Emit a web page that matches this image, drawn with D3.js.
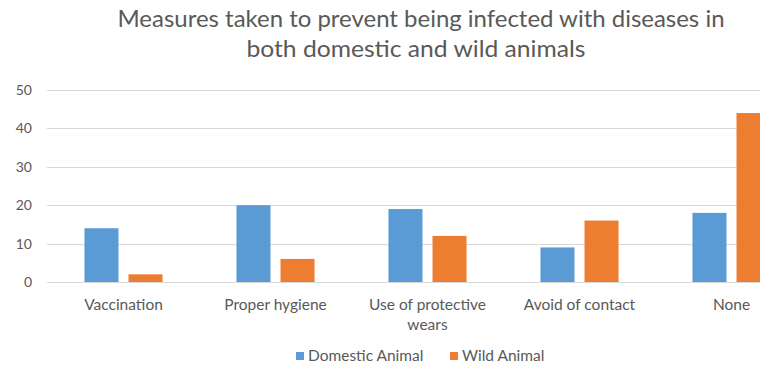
<!DOCTYPE html>
<html><head><meta charset="utf-8">
<script src="https://cdn.jsdelivr.net/npm/d3@7"></script>
<style>
html,body{margin:0;padding:0;background:#fff;overflow:hidden;}
svg{display:block;font-family:Lato, "Open Sans", sans-serif;}
</style></head>
<body>
<svg id="chart" width="760" height="372"></svg>
<script>
const categories = ["Vaccination", "Proper hygiene", "Use of protective wears", "Avoid of contact", "None"];
const categoryLines = [["Vaccination"], ["Proper hygiene"], ["Use of protective", "wears"], ["Avoid of contact"], ["None"]];
const seriesNames = ["Domestic Animal", "Wild Animal"];
const domesticValues = [14, 20, 19, 9, 18];
const wildValues = [2, 6, 12, 16, 44];
const yTicks = [0, 10, 20, 30, 40, 50];
const titleLines = ["Measures taken to prevent being infected with diseases in", "both domestic and wild animals"];
const colors = ["#5B9BD5", "#ED7D31"];

const seriesValues = [domesticValues, wildValues];
const svg = d3.select("#chart");
const textColor = "#595959";

const x0 = d3.scaleBand().domain(categories).range([47.5, 807.5]).padding(0);
const x1 = d3.scaleBand().domain(seriesNames).range([0, x0.bandwidth()]).paddingInner(0.227).paddingOuter(0.84);
const y = d3.scaleLinear().domain([0, 50]).range([282, 90]);

// title
const titleWidths = [607, 339];
const titleCenters = [421, 416];
const title = svg.append("g");
titleLines.forEach((t, i) => {
  title.append("text").attr("x", titleCenters[i]).attr("y", 27 + i * 30)
    .attr("text-anchor", "middle").attr("font-size", 23).attr("fill", textColor)
    .attr("textLength", titleWidths[i]).attr("lengthAdjust", "spacingAndGlyphs").text(t);
});

// gridlines
svg.append("g").selectAll("line").data(yTicks).join("line")
  .attr("x1", 47).attr("x2", 810)
  .attr("y1", d => Math.round(y(d)) + 0.5).attr("y2", d => Math.round(y(d)) + 0.5)
  .attr("stroke", "#D9D9D9").attr("stroke-width", 1);

// y axis labels
const yAxis = d3.axisLeft(y).tickValues(yTicks).tickSize(0).tickPadding(0);
const ya = svg.append("g").attr("transform", "translate(32,0)").call(yAxis);
ya.select(".domain").remove();
ya.selectAll("text").attr("font-size", 14).attr("fill", textColor).attr("font-family", "Lato, sans-serif");

// bars
const groups = svg.append("g").selectAll("g").data(categories).join("g")
  .attr("transform", d => `translate(${x0(d)},0)`);
groups.selectAll("rect").data((c, ci) => seriesNames.map((s, si) => ({s, si, v: seriesValues[si][ci]})))
  .join("rect")
  .attr("x", d => x1(d.s)).attr("width", x1.bandwidth())
  .attr("y", d => y(d.v)).attr("height", d => y(0) - y(d.v))
  .attr("fill", d => colors[d.si]);

// x labels
const xl = svg.append("g");
categories.forEach((c, i) => {
  const t = xl.append("text").attr("x", x0(c) + x0.bandwidth() / 2).attr("y", 310)
    .attr("text-anchor", "middle").attr("font-size", 15.5).attr("fill", textColor);
  categoryLines[i].forEach((ln, j) => {
    t.append("tspan").attr("x", x0(c) + x0.bandwidth() / 2).attr("dy", j === 0 ? 0 : 20).text(ln);
  });
});

// legend
const legendX = [296, 450];
const lg = svg.append("g");
seriesNames.forEach((s, i) => {
  lg.append("rect").attr("x", legendX[i]).attr("y", 352).attr("width", 8).attr("height", 8).attr("fill", colors[i]);
  lg.append("text").attr("x", legendX[i] + 12).attr("y", 361).attr("font-size", 15.5).attr("fill", textColor).text(s);
});
</script>
</body></html>
